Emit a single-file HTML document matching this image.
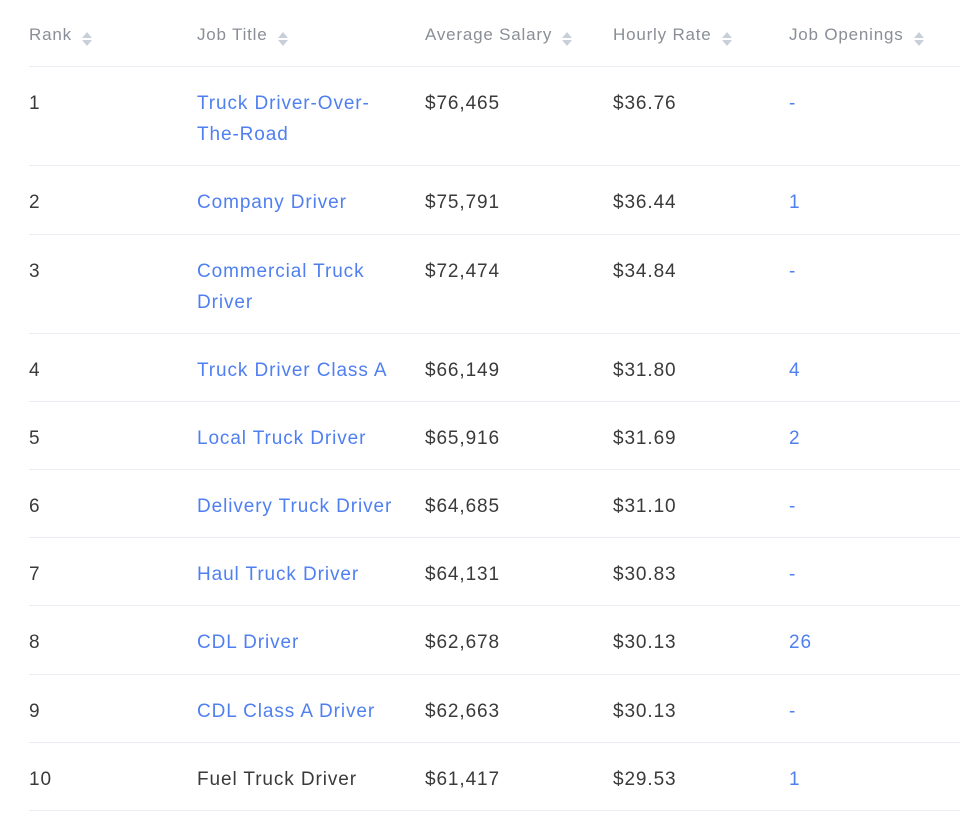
<!DOCTYPE html>
<html><head><meta charset="utf-8"><style>
body{margin:0;width:960px;height:814px;background:#fff;font-family:"Liberation Sans",sans-serif;position:relative;overflow:hidden}
.t{position:absolute;font-size:19px;color:#3a3a3a;line-height:31px;white-space:nowrap;letter-spacing:0.9px}
.h{position:absolute;font-size:17px;color:#8a8e96;line-height:20px;white-space:nowrap;top:25px;letter-spacing:0.8px}
.h i{display:inline-block;width:0;height:0;margin-left:10px;position:relative;top:-4px}
.h i:before,.h i:after{content:"";position:absolute;left:0;border-left:5px solid transparent;border-right:5px solid transparent}
.h i:before{top:-4px;border-bottom:6px solid #c9cfda}
.h i:after{top:4px;border-top:6px solid #c9cfda}
.a{color:#4f7ff0}
.l{position:absolute;left:29px;right:0;height:1px;background:#e9ecf1}
</style></head><body>
<div class="h" style="left:29px">Rank<i></i></div>
<div class="h" style="left:197px">Job Title<i></i></div>
<div class="h" style="left:425px">Average Salary<i></i></div>
<div class="h" style="left:613px">Hourly Rate<i></i></div>
<div class="h" style="left:789px">Job Openings<i></i></div>
<div class="l" style="top:66px"></div>
<div class="l" style="top:165px"></div>
<div class="l" style="top:234px"></div>
<div class="l" style="top:333px"></div>
<div class="l" style="top:401px"></div>
<div class="l" style="top:469px"></div>
<div class="l" style="top:537px"></div>
<div class="l" style="top:605px"></div>
<div class="l" style="top:674px"></div>
<div class="l" style="top:742px"></div>
<div class="l" style="top:810px"></div>

<div class="t" style="top:88px;left:29px">1</div>
<div class="t a" style="top:88px;left:197px">Truck Driver-Over-<br>The-Road</div>
<div class="t" style="top:88px;left:425px">$76,465</div>
<div class="t" style="top:88px;left:613px">$36.76</div>
<div class="t a" style="top:88px;left:789px">-</div>

<div class="t" style="top:187px;left:29px">2</div>
<div class="t a" style="top:187px;left:197px">Company Driver</div>
<div class="t" style="top:187px;left:425px">$75,791</div>
<div class="t" style="top:187px;left:613px">$36.44</div>
<div class="t a" style="top:187px;left:789px">1</div>

<div class="t" style="top:256px;left:29px">3</div>
<div class="t a" style="top:256px;left:197px">Commercial Truck<br>Driver</div>
<div class="t" style="top:256px;left:425px">$72,474</div>
<div class="t" style="top:256px;left:613px">$34.84</div>
<div class="t a" style="top:256px;left:789px">-</div>

<div class="t" style="top:355px;left:29px">4</div>
<div class="t a" style="top:355px;left:197px">Truck Driver Class A</div>
<div class="t" style="top:355px;left:425px">$66,149</div>
<div class="t" style="top:355px;left:613px">$31.80</div>
<div class="t a" style="top:355px;left:789px">4</div>

<div class="t" style="top:423px;left:29px">5</div>
<div class="t a" style="top:423px;left:197px">Local Truck Driver</div>
<div class="t" style="top:423px;left:425px">$65,916</div>
<div class="t" style="top:423px;left:613px">$31.69</div>
<div class="t a" style="top:423px;left:789px">2</div>

<div class="t" style="top:491px;left:29px">6</div>
<div class="t a" style="top:491px;left:197px">Delivery Truck Driver</div>
<div class="t" style="top:491px;left:425px">$64,685</div>
<div class="t" style="top:491px;left:613px">$31.10</div>
<div class="t a" style="top:491px;left:789px">-</div>

<div class="t" style="top:559px;left:29px">7</div>
<div class="t a" style="top:559px;left:197px">Haul Truck Driver</div>
<div class="t" style="top:559px;left:425px">$64,131</div>
<div class="t" style="top:559px;left:613px">$30.83</div>
<div class="t a" style="top:559px;left:789px">-</div>

<div class="t" style="top:627px;left:29px">8</div>
<div class="t a" style="top:627px;left:197px">CDL Driver</div>
<div class="t" style="top:627px;left:425px">$62,678</div>
<div class="t" style="top:627px;left:613px">$30.13</div>
<div class="t a" style="top:627px;left:789px">26</div>

<div class="t" style="top:696px;left:29px">9</div>
<div class="t a" style="top:696px;left:197px">CDL Class A Driver</div>
<div class="t" style="top:696px;left:425px">$62,663</div>
<div class="t" style="top:696px;left:613px">$30.13</div>
<div class="t a" style="top:696px;left:789px">-</div>

<div class="t" style="top:764px;left:29px">10</div>
<div class="t" style="top:764px;left:197px">Fuel Truck Driver</div>
<div class="t" style="top:764px;left:425px">$61,417</div>
<div class="t" style="top:764px;left:613px">$29.53</div>
<div class="t a" style="top:764px;left:789px">1</div>
</body></html>
